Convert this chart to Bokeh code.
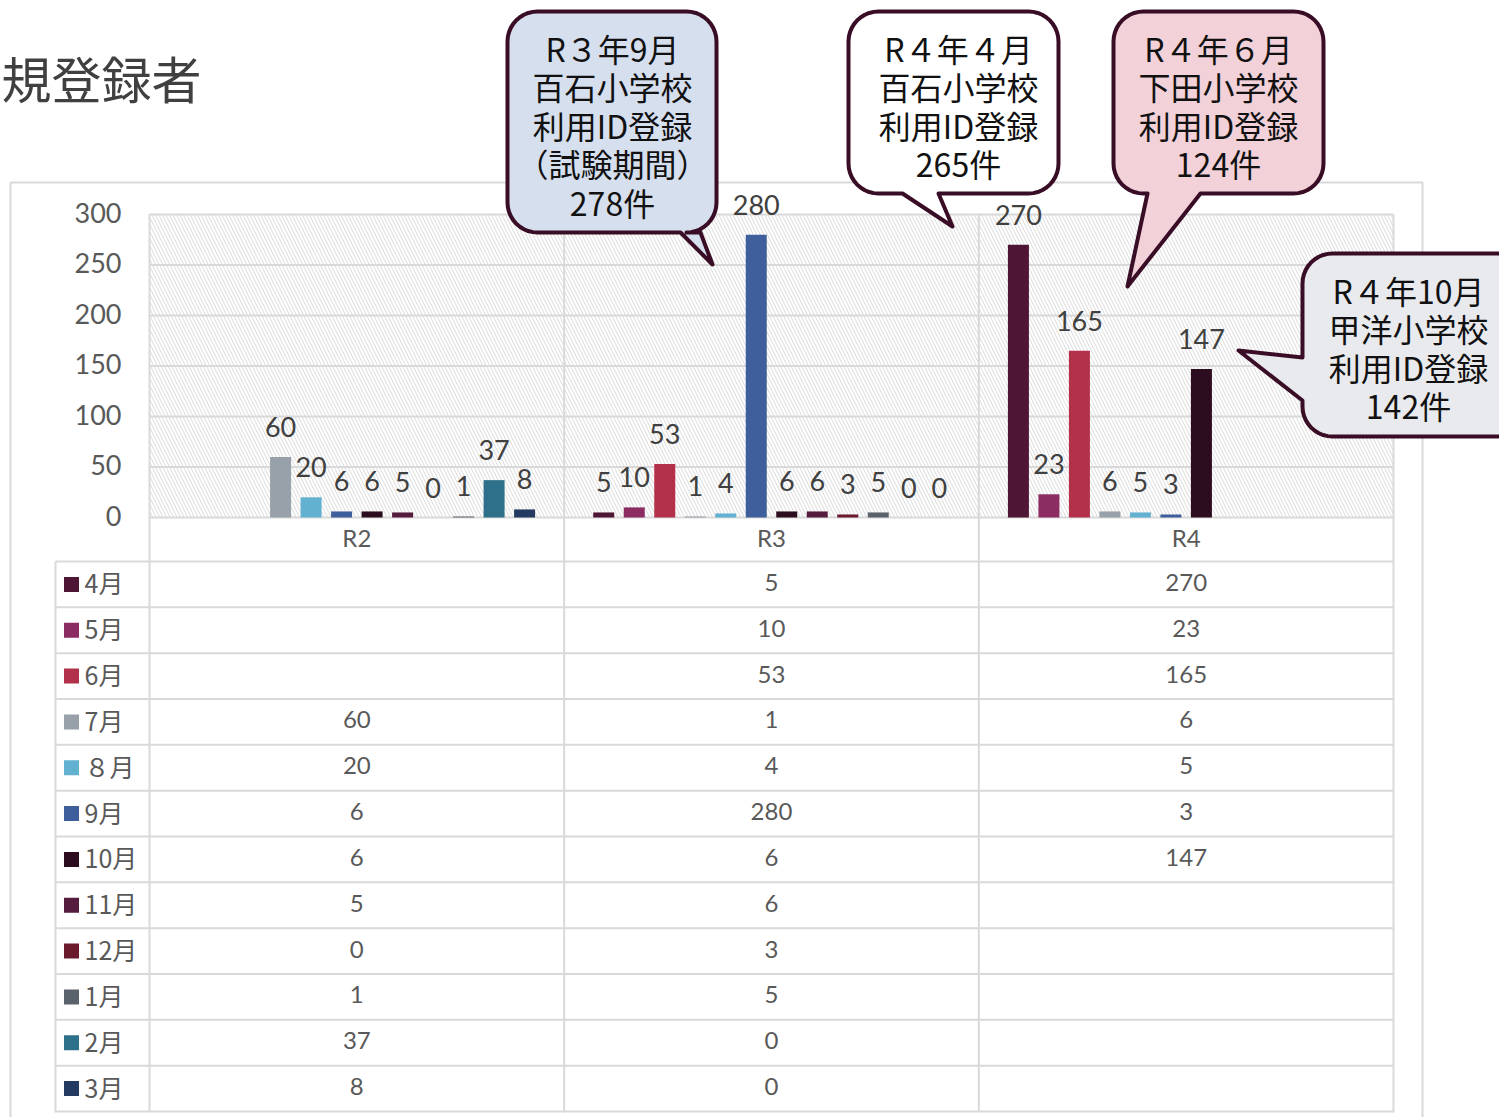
import math
from bokeh.plotting import figure
from bokeh.models import Range1d, ColumnDataSource
from bokeh.core.properties import value
from bokeh.embed import file_html
from bokeh.resources import INLINE

# ---------------- data ----------------
years = ["R2", "R3", "R4"]
months = ["4月", "5月", "6月", "7月", "８月", "9月", "10月", "11月", "12月", "1月", "2月", "3月"]
r2_counts = [None, None, None, 60, 20, 6, 6, 5, 0, 1, 37, 8]
r3_counts = [5, 10, 53, 1, 4, 280, 6, 6, 3, 5, 0, 0]
r4_counts = [270, 23, 165, 6, 5, 3, 147, None, None, None, None, None]
month_colors = ["#4e1535", "#8b2c62", "#b3304b", "#98a0aa", "#63b1d0", "#3f5e9c",
                "#2c0d20", "#561c3e", "#6b1a2e", "#5a626b", "#2e7089", "#243a60"]
y_ticks = [0, 50, 100, 150, 200, 250, 300]
title_text = "規登録者"
callout_texts = [
    ["R３年9月", "百石小学校", "利用ID登録", "（試験期間）", "278件"],
    ["R４年４月", "百石小学校", "利用ID登録", "265件"],
    ["R４年６月", "下田小学校", "利用ID登録", "124件"],
    ["R４年10月", "甲洋小学校", "利用ID登録", "142件"],
]
callout_fills = ["#d6dfed", "#ffffff", "#f2d1d9", "#e9eaed"]

# ---------------- layout (page pixels) ----------------
W, H = 1499, 1117
OX, OY = 0, 0
PX0, PX3 = 149, 1393
PY0, PY300 = 517, 214
U = (PX3 - PX0) / 3.0
V = (PY0 - PY300) / 300.0


def dx(px):
    return (px - PX0) / U


def dy(py):
    return (PY0 - py) / V


p = figure(width=W, height=H,
           x_range=Range1d(dx(OX), dx(OX + W)), y_range=Range1d(dy(OY + H), dy(OY)),
           x_axis_type=None, y_axis_type=None, output_backend="svg",
           toolbar_location=None, min_border=0, outline_line_color=None)
p.background_fill_color = "white"
p.border_fill_color = "white"

GRID = "#d9d9d9"
NUMFONT = value("Lato")
JPFONT = value("Noto Sans CJK JP")

# chart outer border
p.quad(left=[dx(10)], right=[dx(1422)], top=[dy(182)], bottom=[dy(1160)],
       fill_color=None, line_color=GRID, line_width=2)

# plot area with hatch
p.quad(left=[0], right=[3], bottom=[0], top=[300], fill_color="white",
       hatch_pattern="\\", hatch_color="#dadada", hatch_scale=7, hatch_weight=1,
       line_color=None)

# horizontal gridlines
p.segment(x0=[0] * len(y_ticks), x1=[3] * len(y_ticks), y0=y_ticks, y1=y_ticks,
          line_color=GRID, line_width=2)

# vertical lines (group boundaries, through table)
p.segment(x0=[0, 1, 2, 3], x1=[0, 1, 2, 3], y0=[300] * 4, y1=[dy(1112)] * 4,
          line_color=GRID, line_width=2)

# table lines
row_h = (1111 - 561) / 12.0
row_lines = [561 + k * row_h for k in range(13)]
p.segment(x0=[dx(55)] * 13, x1=[3] * 13, y0=[dy(r) for r in row_lines],
          y1=[dy(r) for r in row_lines], line_color=GRID, line_width=2)
p.segment(x0=[dx(55)], x1=[dx(55)], y0=[dy(561)], y1=[dy(1112)],
          line_color=GRID, line_width=2)

# bars
spacing = 30.5 / U
bar_w = 21 / U
series_all = [r2_counts, r3_counts, r4_counts]
bx, btop, bcol, blab = [], [], [], []
for g, series in enumerate(series_all):
    for j, v in enumerate(series):
        if v is None:
            continue
        bx.append(g + 0.5 + (j - 5.5) * spacing)
        btop.append(v)
        bcol.append(month_colors[j])
        blab.append(str(v))
src = ColumnDataSource(dict(x=bx, top=btop, color=bcol, label=blab))
p.vbar(x="x", top="top", bottom=0, width=bar_w, fill_color="color",
       line_color=None, source=src)
p.text(x="x", y="top", text="label", y_offset=-30, text_align="center",
       text_baseline="middle", text_font=NUMFONT, text_font_size="27px",
       text_color="#404040", source=src)

# y tick labels
p.text(x=[dx(121)] * len(y_ticks), y=y_ticks, text=[str(t) for t in y_ticks],
       y_offset=-2, text_align="right", text_baseline="middle", text_font=NUMFONT,
       text_font_size="27px", text_color="#595959")

# category labels
p.text(x=[0.5, 1.5, 2.5], y=[dy(539)] * 3, text=years, y_offset=-2,
       text_align="center", text_baseline="middle", text_font=NUMFONT,
       text_font_size="24px", text_color="#595959")

# legend column of the data table
row_centers = [561 + (k + 0.5) * row_h for k in range(12)]
p.scatter(x=[dx(71)] * 12, y=[dy(c) for c in row_centers], marker="square",
          size=15, fill_color=month_colors, line_color=None)
p.text(x=[dx(84)] * 12, y=[dy(c) for c in row_centers], text=months, y_offset=-2,
       text_align="left", text_baseline="middle", text_font=JPFONT,
       text_font_size="25px", text_color="#595959")

# table values
tx, ty, tt = [], [], []
for g, series in enumerate(series_all):
    for j, v in enumerate(series):
        if v is None:
            continue
        tx.append(g + 0.5)
        ty.append(dy(row_centers[j]))
        tt.append(str(v))
p.text(x=tx, y=ty, text=tt, y_offset=-2, text_align="center", text_baseline="middle",
       text_font=NUMFONT, text_font_size="24px", text_color="#595959")


# callout bubbles
def arc(cx, cy, r, a0, a1, n=10):
    pts = []
    for i in range(n + 1):
        a = math.radians(a0 + (a1 - a0) * i / n)
        pts.append((cx + r * math.cos(a), cy + r * math.sin(a)))
    return pts


def bubble(x0, y0, x1, y1, r, side, a, b, tip):
    pts = []
    pts += arc(x0 + r, y0 + r, r, 180, 270)
    pts += arc(x1 - r, y0 + r, r, 270, 360)
    pts += arc(x1 - r, y1 - r, r, 0, 90)
    if side == "bottom":
        pts += [(b, y1), tip, (a, y1)]
    pts += arc(x0 + r, y1 - r, r, 90, 180)
    if side == "left":
        pts += [(x0, b), tip, (x0, a)]
    return pts


bubbles = [
    dict(box=(507, 11, 716, 232), side="bottom", a=680, b=700, tip=(712, 264),
         cx=612, cy=50),
    dict(box=(848, 11, 1058, 193), side="bottom", a=902, b=938, tip=(952, 226),
         cx=958, cy=50),
    dict(box=(1113, 11, 1323, 193), side="bottom", a=1147, b=1200, tip=(1127, 286),
         cx=1218, cy=50),
    dict(box=(1302, 253, 1540, 436), side="left", a=357, b=400, tip=(1238, 350),
         cx=1408, cy=292),
]
for k, bd in enumerate(bubbles):
    x0, y0, x1, y1 = bd["box"]
    pts = bubble(x0, y0, x1, y1, 30, bd["side"], bd["a"], bd["b"], bd["tip"])
    p.patch(x=[dx(q[0]) for q in pts], y=[dy(q[1]) for q in pts],
            fill_color=callout_fills[k], line_color="#3a0d26", line_width=4,
            line_join="round")
    lines = callout_texts[k]
    p.text(x=[dx(bd["cx"])] * len(lines),
           y=[dy(bd["cy"] + i * 38.5) for i in range(len(lines))],
           text=lines, y_offset=-3, text_align="center", text_baseline="middle",
           text_font=JPFONT, text_font_size="32px", text_color="#111111")

# title (visible part of the heading at the top-left edge)
p.text(x=[dx(1)], y=[dy(78)], text=[title_text], y_offset=-2, text_align="left",
       text_baseline="middle", text_font=JPFONT, text_font_size="50px",
       text_color="#404040")

open("out.html", "w").write(file_html(p, INLINE))
